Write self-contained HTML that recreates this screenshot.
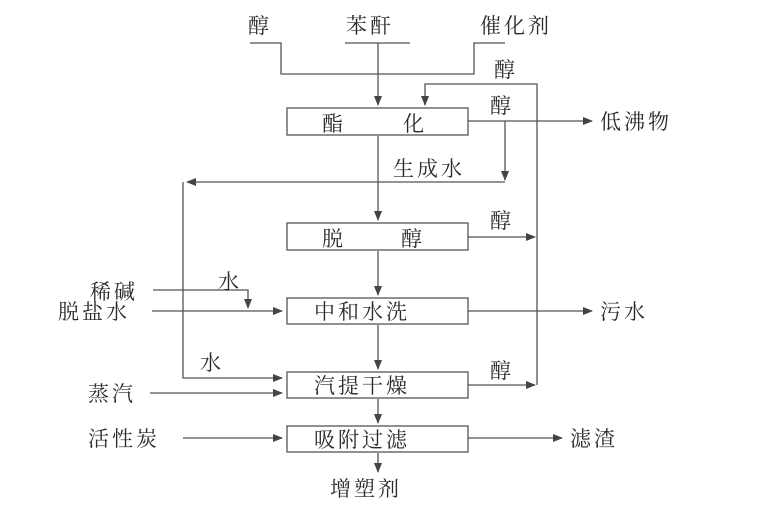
<!DOCTYPE html>
<html><head><meta charset="utf-8"><style>
html,body{margin:0;padding:0;background:#fff}
svg text{font-family:"Liberation Serif","Noto Serif CJK SC",serif;font-size:21px;fill:#2a2a2a;letter-spacing:3px}
</style></head><body>
<svg width="758" height="500" viewBox="0 0 758 500" xmlns="http://www.w3.org/2000/svg">
<defs><marker id="a" markerWidth="10" markerHeight="8" refX="9" refY="4" orient="auto" markerUnits="userSpaceOnUse"><path d="M0,0 L10,4 L0,8 z" fill="#444"/></marker></defs>
<g stroke="#555" stroke-width="1.3" fill="none">
<rect x="287" y="108" width="181" height="27"/>
<rect x="287" y="223" width="181" height="27"/>
<rect x="287" y="298" width="181" height="26"/>
<rect x="287" y="372" width="181" height="26"/>
<rect x="287" y="426" width="181" height="26"/>
<polyline points="250,43 281,43 281,74 474,74 474,43 505,43"/>
<line x1="345" y1="43" x2="410" y2="43"/>
<line x1="378" y1="43" x2="378" y2="105" marker-end="url(#a)"/>
<polyline points="537,385 537,84 425,84 425,105" marker-end="url(#a)"/>
<line x1="468" y1="121" x2="592" y2="121" marker-end="url(#a)"/>
<line x1="505" y1="121" x2="505" y2="180" marker-end="url(#a)"/>
<line x1="505" y1="182" x2="187" y2="182" marker-end="url(#a)"/>
<polyline points="183,182 183,378 282,378" marker-end="url(#a)"/>
<line x1="378" y1="136" x2="378" y2="220" marker-end="url(#a)"/>
<line x1="468" y1="237" x2="535" y2="237" marker-end="url(#a)"/>
<line x1="378" y1="251" x2="378" y2="295" marker-end="url(#a)"/>
<polyline points="153,290 248,290 248,308" marker-end="url(#a)"/>
<line x1="152" y1="311" x2="282" y2="311" marker-end="url(#a)"/>
<line x1="468" y1="311" x2="592" y2="311" marker-end="url(#a)"/>
<line x1="378" y1="325" x2="378" y2="369" marker-end="url(#a)"/>
<line x1="468" y1="385" x2="535" y2="385" marker-end="url(#a)"/>
<line x1="150" y1="393" x2="282" y2="393" marker-end="url(#a)"/>
<line x1="378" y1="399" x2="378" y2="423" marker-end="url(#a)"/>
<line x1="183" y1="438" x2="282" y2="438" marker-end="url(#a)"/>
<line x1="468" y1="438" x2="562" y2="438" marker-end="url(#a)"/>
<line x1="378" y1="453" x2="378" y2="472" marker-end="url(#a)"/>
</g>
<text x="248" y="33">醇</text>
<text x="346" y="33">苯酐</text>
<text x="480" y="33">催化剂</text>
<text x="494" y="77">醇</text>
<text x="490" y="113">醇</text>
<text x="322" y="131">酯</text><text x="403" y="131">化</text>
<text x="600" y="129">低沸物</text>
<text x="393" y="176">生成水</text>
<text x="490" y="228">醇</text>
<text x="322" y="246">脱</text><text x="401" y="246">醇</text>
<text x="218" y="289">水</text>
<text x="90" y="299">稀碱</text>
<text x="58" y="319">脱盐水</text>
<text x="314" y="319">中和水洗</text>
<text x="600" y="319">污水</text>
<text x="200" y="370">水</text>
<text x="490" y="378">醇</text>
<text x="88" y="401">蒸汽</text>
<text x="314" y="393">汽提干燥</text>
<text x="88" y="446">活性炭</text>
<text x="314" y="447">吸附过滤</text>
<text x="570" y="446">滤渣</text>
<text x="330" y="496">增塑剂</text>
</svg>
</body></html>
